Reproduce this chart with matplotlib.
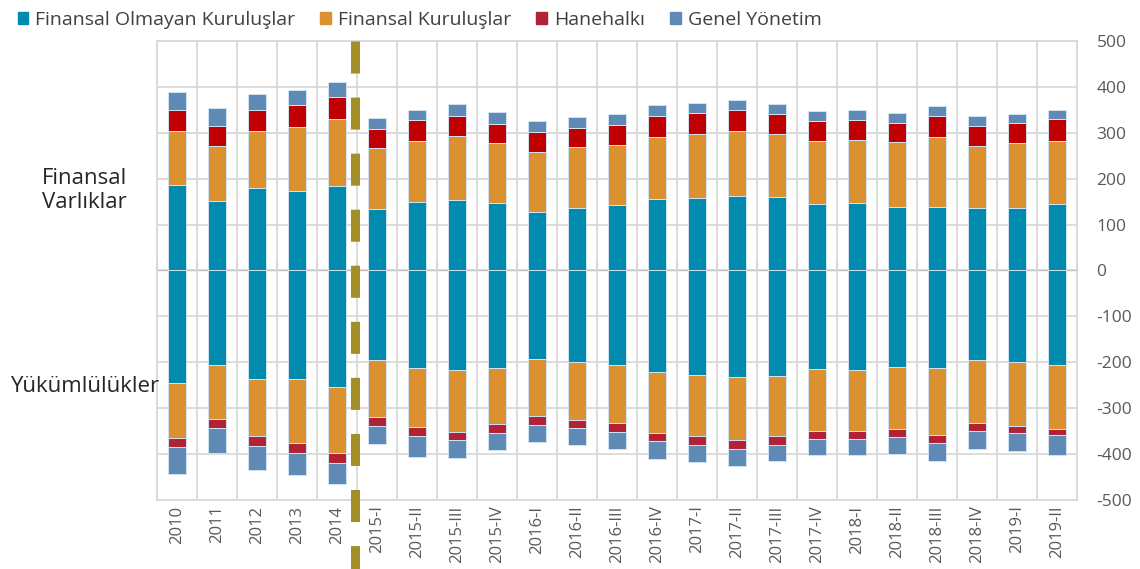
import numpy as np
import matplotlib.pyplot as plt
from matplotlib.patches import Patch

plt.rcParams['font.family'] = ['Open Sans', 'DejaVu Sans']
plt.rcParams['axes.unicode_minus'] = False

labels = ['2010', '2011', '2012', '2013', '2014',
          '2015-I', '2015-II', '2015-III', '2015-IV',
          '2016-I', '2016-II', '2016-III', '2016-IV',
          '2017-I', '2017-II', '2017-III', '2017-IV',
          '2018-I', '2018-II', '2018-III', '2018-IV',
          '2019-I', '2019-II']

# varliklar (pozitif)
nfc_a = [187, 152, 180, 174, 185, 134, 149, 153, 148, 128, 137, 142, 155,
         157, 163, 161, 145, 146, 139, 139, 137, 137, 144]
fc_a = [116, 119, 123, 139, 145, 132, 134, 140, 130, 130, 131, 132, 136,
        141, 141, 137, 138, 139, 140, 152, 135, 140, 139]
hh_a = [47, 44, 46, 48, 49, 43, 44, 44, 42, 44, 43, 44, 45,
        44, 45, 42, 43, 43, 43, 46, 42, 44, 46]
gg_a = [39, 38, 35, 32, 31, 24, 23, 25, 25, 23, 24, 23, 24,
        23, 22, 23, 22, 21, 21, 21, 22, 20, 21]

# yukumlulukler (negatif)
nfc_l = [-245, -206, -236, -237, -253, -195, -213, -217, -212, -192, -199, -205, -221,
         -227, -232, -229, -215, -216, -211, -213, -196, -199, -206]
fc_l = [-120, -117, -124, -138, -144, -125, -127, -134, -123, -124, -126, -127, -132,
        -134, -137, -132, -134, -133, -134, -146, -137, -139, -139]
hh_l = [-19, -20, -22, -22, -23, -19, -20, -19, -19, -20, -18, -19, -19,
        -19, -20, -19, -18, -18, -18, -17, -17, -16, -14]
gg_l = [-60, -55, -53, -48, -46, -39, -46, -39, -37, -37, -37, -37, -38,
        -38, -36, -36, -35, -36, -36, -39, -39, -40, -43]

c_nfc = '#008bae'
c_fc = '#db9130'
c_hh = '#c00000'
c_hh2 = '#b22234'
c_gg = '#5f8ab5'

x = np.arange(len(labels))
w = 0.45
ec = '#d3e3f0'

fig = plt.figure(figsize=(11.4, 5.69), dpi=100)
ax = fig.add_axes([0.1377, 0.1213, 0.807, 0.8067])

nfc_a = np.array(nfc_a); fc_a = np.array(fc_a); hh_a = np.array(hh_a); gg_a = np.array(gg_a)
nfc_l = np.array(nfc_l); fc_l = np.array(fc_l); hh_l = np.array(hh_l); gg_l = np.array(gg_l)

kw = dict(width=w, edgecolor=ec, linewidth=0.7, zorder=3)
ax.bar(x, nfc_a, color=c_nfc, **kw)
ax.bar(x, fc_a, bottom=nfc_a, color=c_fc, **kw)
ax.bar(x, hh_a, bottom=nfc_a + fc_a, color=c_hh, **kw)
ax.bar(x, gg_a, bottom=nfc_a + fc_a + hh_a, color=c_gg, **kw)

ax.bar(x, nfc_l, color=c_nfc, **kw)
ax.bar(x, fc_l, bottom=nfc_l, color=c_fc, **kw)
ax.bar(x, hh_l, bottom=nfc_l + fc_l, color=c_hh2, **kw)
ax.bar(x, gg_l, bottom=nfc_l + fc_l + hh_l, color=c_gg, **kw)

ax.set_xlim(-0.5, len(labels) - 0.5)
ax.set_ylim(-500, 500)
ax.set_yticks(np.arange(-500, 501, 100))
ax.yaxis.tick_right()
ax.tick_params(axis='y', length=0, pad=14, labelsize=12.5, labelcolor='#595959')
ax.set_xticks(x)
ax.set_xticklabels(labels, rotation=90)
ax.tick_params(axis='x', length=0, pad=4, labelsize=12, labelcolor='#595959')
ax.set_xticks(np.arange(-0.5, len(labels)), minor=True)
ax.tick_params(axis='x', which='minor', length=0)
ax.grid(axis='y', color='#d9d9d9', linewidth=1.3, zorder=0)
ax.grid(axis='x', which='minor', color='#d9d9d9', linewidth=1.3, zorder=0)
ax.set_axisbelow(True)
for s in ax.spines.values():
    s.set_color('#d9d9d9')
    s.set_linewidth(1.3)

# sifir cizgisi ve tikleri
sec = ax.secondary_xaxis(0.5)
sec.set_xticks(np.arange(-0.5, len(labels)))
sec.set_xticklabels([])
sec.tick_params(length=6, width=1.2, color='#7f7f7f', direction='out')
sec.spines['bottom'].set_color('#7f7f7f')
sec.spines['bottom'].set_linewidth(1.5)

# kesikli ayirici cizgi
ln, = ax.plot([4.45, 4.45], [500, -680], color='#a38f2a', linewidth=6.5,
              clip_on=False, zorder=5, solid_capstyle='butt')
ln.set_dashes((3.55, 2.66))
ln.set_dash_capstyle('butt')

fig.text(0.074, 0.665, 'Finansal\nVarlıklar', ha='center', va='center',
         fontsize=16, color='#262626', linespacing=1.2)
fig.text(0.074, 0.32, 'Yükümlülükler', ha='center', va='center',
         fontsize=16, color='#262626')

handles = [Patch(color=c_nfc, label='Finansal Olmayan Kuruluşlar'),
           Patch(color=c_fc, label='Finansal Kuruluşlar'),
           Patch(color=c_hh2, label='Hanehalkı'),
           Patch(color=c_gg, label='Genel Yönetim')]
fig.legend(handles=handles, loc='upper left', bbox_to_anchor=(0.0, 1.012), ncol=4,
           frameon=False, fontsize=14, handlelength=0.55, handleheight=0.55,
           handletextpad=0.35, columnspacing=1.3, labelcolor='#404040')

fig.savefig('out.png', dpi=100)
